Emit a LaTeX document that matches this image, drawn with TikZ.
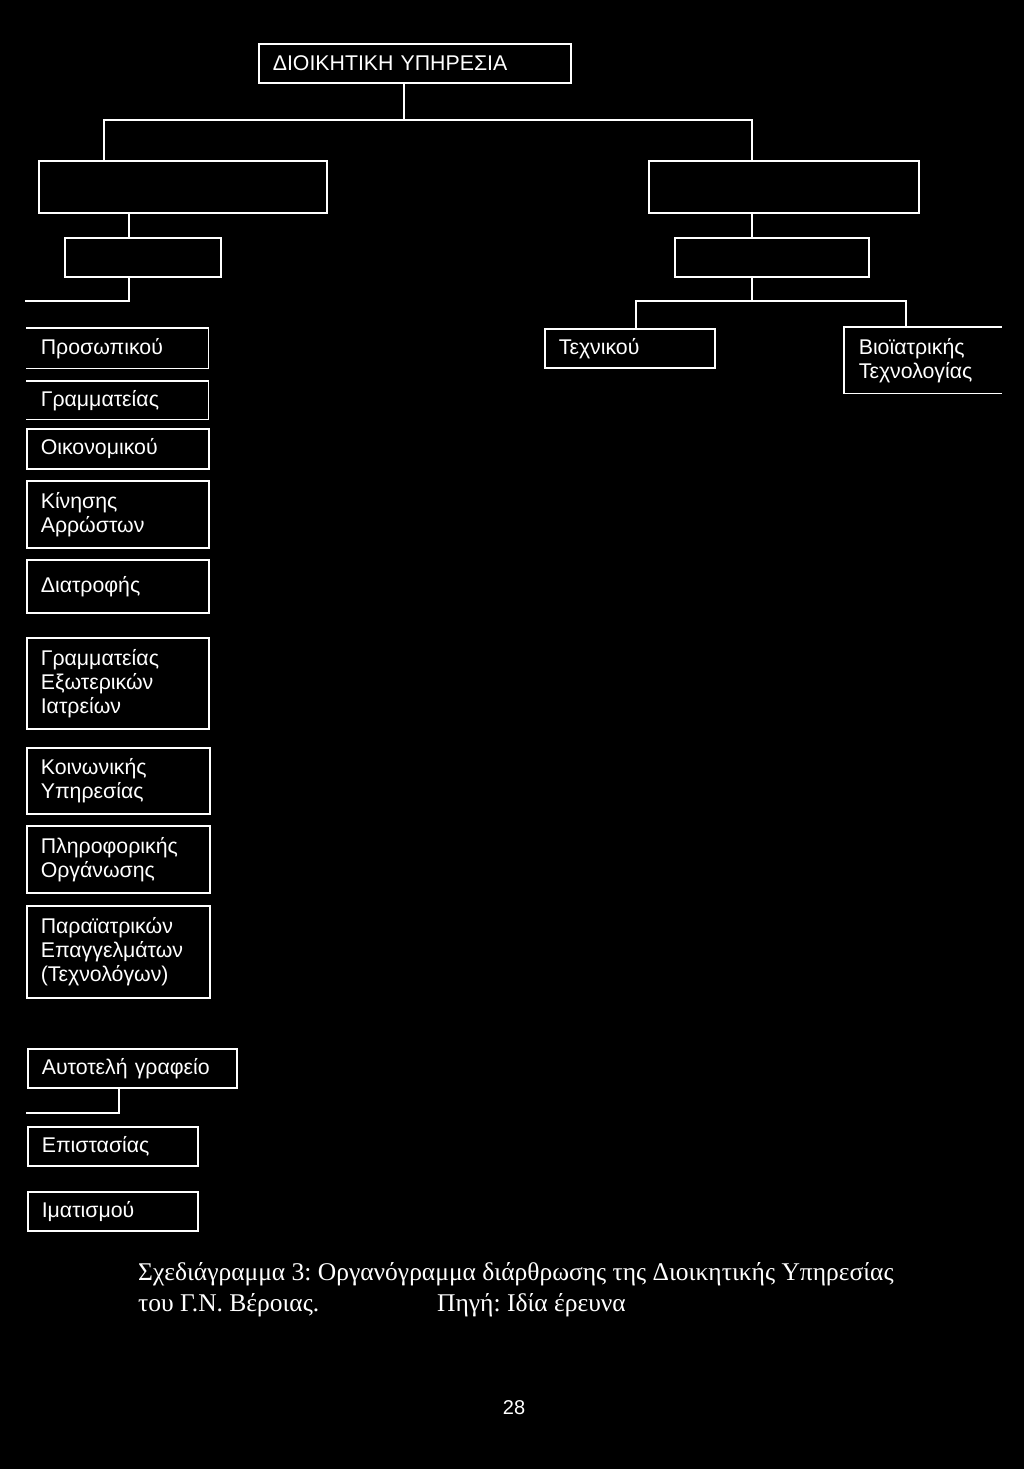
\documentclass[tikz,border=0pt]{standalone}
\usepackage{fontspec}
\setmainfont{Liberation Sans}
\newfontfamily\captfont{Liberation Serif}
\usetikzlibrary{positioning}
\frenchspacing

\tikzset{
  unit/.style={draw=white, line width=1.6pt, anchor=north west, inner xsep=14pt, inner ysep=0pt,
    align=left, text=white, font=\fontsize{21.3}{24}\selectfont},
  openunit/.style={unit, draw=none},
  link/.style={draw=white, line width=1.6pt}
}

\begin{document}
\begin{tikzpicture}[x=1pt, y=-1pt]
    \fill[black] (0,0) rectangle (1024,1469);
    \useasboundingbox (0,0) rectangle (1024,1469);

    % top of the chart
    \node[unit, text width=284, minimum height=39] (dioik) at (258,43) {ΔΙΟΙΚΗΤΙΚΗ ΥΠΗΡΕΣΙΑ};
    \node[unit, text width=260, minimum height=52] (admL) at (38,160) {};
    \node[unit, text width=242, minimum height=52] (admR) at (648,160) {};
    \node[unit, text width=128, minimum height=39] (subL) at (64,237) {};
    \node[unit, text width=166, minimum height=39] (subR) at (674,237) {};

    % right branch
    \node[unit, text width=142, minimum height=39] (tech) at (544,328) {Τεχνικού};
    \node[openunit, text width=128, minimum height=65] (bio) at (844,327) {Βιοϊατρικής\\Τεχνολογίας};

    % left column
    \node[openunit, text width=153, minimum height=39] (pros) at (26,328) {Προσωπικού};
    \node[openunit, text width=153, minimum height=37] (gram) at (26,381) {Γραμματείας};
    \node[unit, text width=154, minimum height=40] (oik) at (26,428) {Οικονομικού};
    \node[unit, text width=154, minimum height=67] (kin) at (26,480) {Κίνησης\\Αρρώστων};
    \node[unit, text width=154, minimum height=53] (diat) at (26,559) {Διατροφής};
    \node[unit, text width=154, minimum height=91] (gex) at (26,637) {Γραμματείας\\Εξωτερικών\\Ιατρείων};
    \node[unit, text width=155, minimum height=66] (koin) at (26,747) {Κοινωνικής\\Υπηρεσίας};
    \node[unit, text width=155, minimum height=67] (plir) at (26,825) {Πληροφορικής\\Οργάνωσης};
    \node[unit, text width=155, minimum height=92] (para) at (26,905) {Παραϊατρικών\\Επαγγελμάτων\\(Τεχνολόγων)};

    % bottom group
    \node[unit, text width=181, minimum height=39] (auto) at (27,1048) {Αυτοτελή γραφείο};
    \node[unit, text width=142, minimum height=39] (epis) at (27,1126) {Επιστασίας};
    \node[unit, text width=142, minimum height=39] (imat) at (27,1191) {Ιματισμού};

    % open boxes
    \draw[link] (pros.north west) -- (pros.north east) -- (pros.south east) -- (pros.south west);
    \draw[link] (gram.north west) -- (gram.north east) -- (gram.south east) -- (gram.south west);
    \draw[link] (bio.north east) -- (bio.north west) -- (bio.south west) -- (bio.south east);

    % junctions
    \coordinate (jT) at (404,120);
    \coordinate (jTL) at (104,120);
    \coordinate (jTR) at (752,120);
    \coordinate (cL) at (129,301);
    \coordinate (cLend) at (25,301);
    \coordinate (tL) at (636,301);
    \coordinate (tR) at (906,301);
    \coordinate (aL) at (119,1113);
    \coordinate (aEnd) at (26,1113);

    \draw[link] (dioik.south -| jT) -- (jT);
    \draw[link] (admL.north -| jTL) -- (jTL) -- (jTR) -- (admR.north -| jTR);
    \draw[link] (admL.south -| cL) -- (subL.north -| cL);
    \draw[link] (subL.south -| cL) -- (cL) -- (cLend);
    \draw[link] (admR.south -| jTR) -- (subR.north -| jTR);
    \draw[link] (subR.south -| jTR) -- (tL -| jTR);
    \draw[link] (tech.north -| tL) -- (tL) -- (tR) -- (bio.north -| tR);
    \draw[link] (auto.south -| aL) -- (aL) -- (aEnd);

    % caption
    \node[anchor=west, text=white, font=\captfont\fontsize{25.5}{30}\selectfont, inner sep=0pt] (cap1) at (138,1274)
        {Σχεδιάγραμμα 3: Οργανόγραμμα διάρθρωσης της Διοικητικής Υπηρεσίας};
    \node[anchor=west, text=white, font=\captfont\fontsize{25.5}{30}\selectfont, inner sep=0pt] (cap2) at (138,1305)
        {του Γ.Ν. Βέροιας.};
    \node[anchor=west, text=white, font=\captfont\fontsize{25.5}{30}\selectfont, inner sep=0pt] (src) at (437,1305)
        {Πηγή: Ιδία έρευνα};
    \node[text=white, font=\fontsize{20}{24}\selectfont, inner sep=0pt] (page) at (514,1408) {28};

\end{tikzpicture}
\end{document}
